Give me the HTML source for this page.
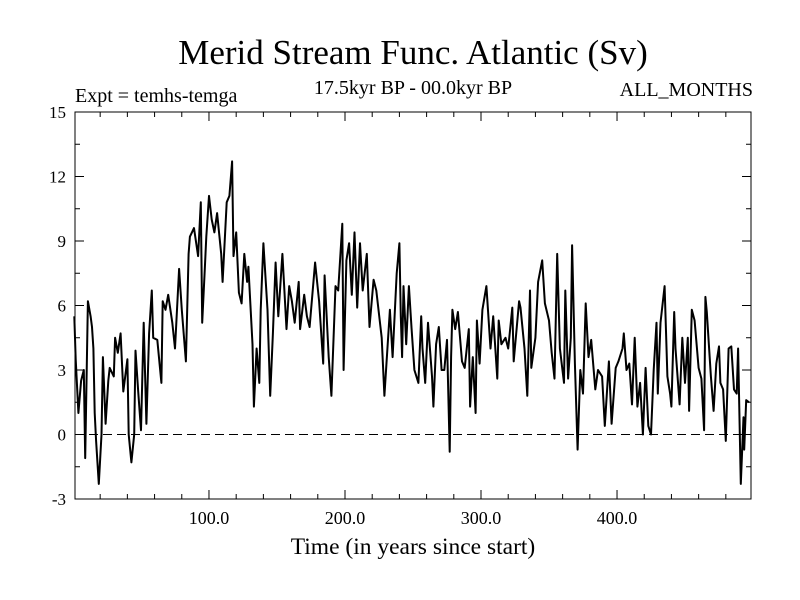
<!DOCTYPE html>
<html><head><meta charset="utf-8"><style>
body{margin:0;background:#fff;}
svg{display:block;font-family:"Liberation Serif",serif;}
</style></head><body>
<svg id="chart" width="800" height="600">
<text x="413" y="64" font-size="35" text-anchor="middle">Merid Stream Func. Atlantic (Sv)</text>
<text x="75" y="102" font-size="20">Expt = temhs-temga</text>
<text x="413" y="94" font-size="20" text-anchor="middle">17.5kyr BP - 00.0kyr BP</text>
<text x="753" y="96" font-size="20" text-anchor="end">ALL_MONTHS</text>
<text x="413" y="554" font-size="23.5" text-anchor="middle">Time (in years since start)</text>
<g id="axes"></g>
<line id="zero" stroke="#000" stroke-width="1" stroke-dasharray="9,5"/>
<path id="series" fill="none" stroke="#000" stroke-width="2" stroke-linejoin="round"/>
<rect x="75" y="112" width="676" height="387" fill="none" stroke="#000" stroke-width="1"/>
</svg>
<script>
const years=[1,2,4,6,8,9,11,13,14,15,16,17,19,21,22,24,26,27,30,31,33,35,37,40,41,43,45,46,48,50,52,54,56,58,59,62,65,66,68,70,73,75,78,80,83,85,86,89,92,94,95,97,98,100,102,104,106,109,110,113,115,117,118,120,122,124,126,128,129,132,133,135,137,138,140,143,145,147,149,151,154,157,159,161,163,166,167,170,172,174,178,181,184,185,188,190,193,195,198,199,201,203,205,207,209,211,213,216,218,221,223,227,229,233,235,238,240,241,242,243,245,247,249,251,254,256,257,259,261,264,265,267,269,271,273,275,277,278,279,281,283,286,288,291,292,294,296,297,299,301,304,307,309,312,313,315,318,320,323,324,328,329,332,334,336,337,340,342,345,347,350,352,354,356,358,361,362,364,366,367,369,371,373,375,377,379,381,384,386,389,391,394,396,399,401,404,405,407,409,411,413,415,417,419,421,423,425,427,429,430,432,435,437,439,440,442,443,446,448,450,452,453,455,457,460,462,464,465,466,469,471,473,475,476,478,480,482,484,486,488,489,491,493,493.5,495,497,498];
const values=[5.5,3.5,1.0,2.5,3.0,-1.1,6.2,5.5,5.0,4.0,1.0,-0.3,-2.3,0.0,3.6,0.5,2.5,3.1,2.7,4.5,3.8,4.7,2.0,3.5,0.0,-1.3,0.0,3.9,2.0,0.2,5.2,0.5,4.7,6.7,4.5,4.4,2.4,6.2,5.8,6.5,5.2,4.0,7.7,5.8,3.4,8.4,9.2,9.6,8.3,10.8,5.2,7.8,9.2,11.1,10.0,9.4,10.3,8.4,7.1,10.8,11.1,12.7,8.3,9.4,6.6,6.1,8.4,7.1,7.8,4.2,1.3,4.0,2.4,5.8,8.9,5.8,1.8,4.7,8.0,5.5,8.4,4.9,6.9,6.2,5.2,7.1,4.9,6.5,5.5,5.0,8.0,6.2,3.3,7.4,3.6,1.8,6.9,6.7,9.8,3.0,8.1,8.9,6.5,9.4,5.9,8.9,6.7,8.4,5.0,7.2,6.7,4.5,1.8,5.8,3.6,7.5,8.9,5.5,3.6,6.9,4.2,6.9,4.9,3.0,2.4,5.5,4.0,2.4,5.2,2.7,1.3,4.2,5.0,3.0,3.0,4.4,-0.8,3.6,5.8,4.9,5.7,3.4,3.1,4.9,1.3,3.6,1.0,5.3,3.3,5.8,6.9,4.0,5.5,2.6,5.3,4.2,4.5,4.0,5.9,3.4,6.2,5.9,4.0,1.8,6.7,3.1,4.5,7.1,8.1,6.1,5.3,3.8,2.6,8.4,4.0,2.4,6.7,2.6,4.5,8.8,3.3,-0.7,3.0,1.9,6.1,3.6,4.4,2.1,3.0,2.7,0.4,3.4,0.5,3.1,3.4,4.0,4.7,3.0,3.3,1.4,4.5,1.3,2.4,0.0,3.1,0.4,0.0,3.0,5.2,1.9,5.2,6.9,2.7,1.9,1.3,5.7,4.0,1.4,4.5,2.4,4.5,1.1,5.8,5.3,3.1,2.6,0.2,6.4,5.7,2.7,1.1,3.3,4.1,2.4,2.1,-0.3,4.0,4.1,2.1,1.9,4.0,-2.3,0.8,-0.7,1.6,1.5];
const yTicks=[-3,0,3,6,9,12,15];
const xTicks=[100,200,300,400];
const xLabels=["100.0","200.0","300.0","400.0"];
const X0=75,X1=751,Y0=499,Y1=112,xmin=1.5,xmax=498.5,ymin=-3,ymax=15;
const xs=v=>X0+(v-xmin)/(xmax-xmin)*(X1-X0);
const ys=v=>Y0-(v-ymin)/(ymax-ymin)*(Y0-Y1);
const NS="http://www.w3.org/2000/svg";
const axes=document.getElementById('axes');
function mk(tag,attrs){const e=document.createElementNS(NS,tag);for(const k in attrs)e.setAttribute(k,attrs[k]);axes.appendChild(e);return e;}
for(let v=ymin;v<=ymax+0.01;v+=1.5){
  const major=Math.abs(v/3-Math.round(v/3))<1e-6;const L=major?9:5;const y=ys(v);
  const t1=mk('line',{x1:X0,x2:X0+L,y1:y,y2:y,stroke:'#000'});
  
  
  const t2=mk('line',{x1:X1,x2:X1-L,y1:y,y2:y,stroke:'#000'});
  
  
}
yTicks.forEach(v=>{
  const t=mk('text',{x:66,y:ys(v)+6,'font-size':17,'text-anchor':'end'});t.textContent=v;
  
  
});
for(let v=20;v<xmax;v+=20){
  const major=v%100===0;const L=major?9:5;const x=xs(v);
  const t=mk('line',{x1:x,x2:x,y1:Y0,y2:Y0-L,stroke:'#000'});
  
  
  const t2=mk('line',{x1:x,x2:x,y1:Y1,y2:Y1+L,stroke:'#000'});
  
  
}
xTicks.forEach((v,i)=>{
  const t=mk('text',{x:xs(v),y:524,'font-size':18,'text-anchor':'middle'});t.textContent=xLabels[i];
  
  
});
const z=document.getElementById('zero');
z.setAttribute('x1',X0);z.setAttribute('x2',X1);z.setAttribute('y1',ys(0));z.setAttribute('y2',ys(0));
let d='';years.forEach((yr,i)=>{d+=(i?'L':'M')+xs(yr).toFixed(1)+','+ys(values[i]).toFixed(1);});
document.getElementById('series').setAttribute('d',d);
</script>
</body></html>
